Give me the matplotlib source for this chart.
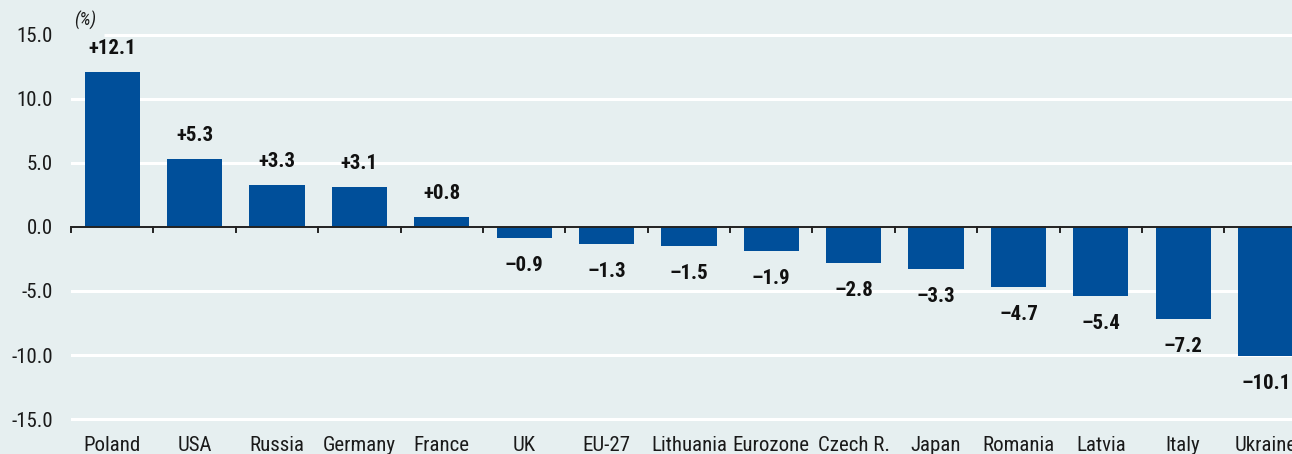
import matplotlib
matplotlib.use("Agg")
import matplotlib.pyplot as plt
from matplotlib import font_manager

# Data
countries = ["Poland", "USA", "Russia", "Germany", "France", "UK", "EU-27",
             "Lithuania", "Eurozone", "Czech R.", "Japan", "Romania",
             "Latvia", "Italy", "Ukraine"]
growth = [12.1, 5.3, 3.3, 3.1, 0.8, -0.9, -1.3, -1.5, -1.9, -2.8, -3.3,
          -4.7, -5.4, -7.2, -10.1]
yticks = [-15, -10, -5, 0, 5, 10, 15]

# narrow grotesque, closest to the Helvetica Condensed of the original
names = {f.name for f in font_manager.fontManager.ttflist}
fam = "DejaVu Sans"
for cand in ["Liberation Sans Narrow", "Roboto Condensed", "Archivo Narrow",
             "Open Sans Condensed", "Barlow Semi Condensed", "Asap Condensed"]:
    if cand in names:
        fam = cand
        break
plt.rcParams["font.family"] = [fam, "DejaVu Sans"]

bg = "#e6eff0"
bar_col = "#004f9a"
ink = "#1a1a1a"

fig = plt.figure(figsize=(12.92, 4.54), dpi=100, facecolor=bg)
ax = fig.add_axes([71 / 1292, 22 / 454, 1 - 71 / 1292, 1 - 22 / 454])
ax.set_facecolor(bg)

x = list(range(len(countries)))
ax.bar(x, growth, width=0.67, color=bar_col, zorder=3)

ax.set_xlim(-0.5, 14.32)
ax.set_ylim(-16.0, 17.7)

# gridlines
for t in yticks:
    if t == 15:
        ax.hlines(t, -0.1, 14.32, color="white", lw=2.2, zorder=1)
    elif t != 0:
        ax.axhline(t, color="white", lw=2.2, zorder=1)
ax.axhline(0, color="#222222", lw=1.4, zorder=4)

# ticks on zero line
for b in range(len(countries)):
    ax.plot([b - 0.5, b - 0.5], [0, -0.4], color="#222222", lw=1.4, zorder=4,
            clip_on=False)

for s in ax.spines.values():
    s.set_visible(False)

ax.set_yticks(yticks)
ax.set_yticklabels([f"{t:.1f}" for t in yticks], fontsize=15, color=ink)
ax.tick_params(axis="y", length=0, pad=13)
ax.set_xticks(x)
ax.set_xticklabels(countries, fontsize=15, color=ink)
ax.tick_params(axis="x", length=0, pad=3)

for xi, v in zip(x, growth):
    if v >= 0:
        lab = f"+{v:.1f}"
        ax.annotate(lab, (xi, v), xytext=(0, 10), textcoords="offset points",
                    ha="center", va="bottom", fontsize=15, fontweight="bold",
                    color="#111111")
    else:
        lab = "\u2013" + f"{abs(v):.1f}"
        ax.annotate(lab, (xi, v), xytext=(0, -13), textcoords="offset points",
                    ha="center", va="top", fontsize=15, fontweight="bold",
                    color="#111111")

ax.text(-0.33, 16.1, "(%)", fontsize=13, style="italic", color=ink,
        ha="center", va="center")

fig.savefig("out.png", dpi=100, facecolor=bg)
